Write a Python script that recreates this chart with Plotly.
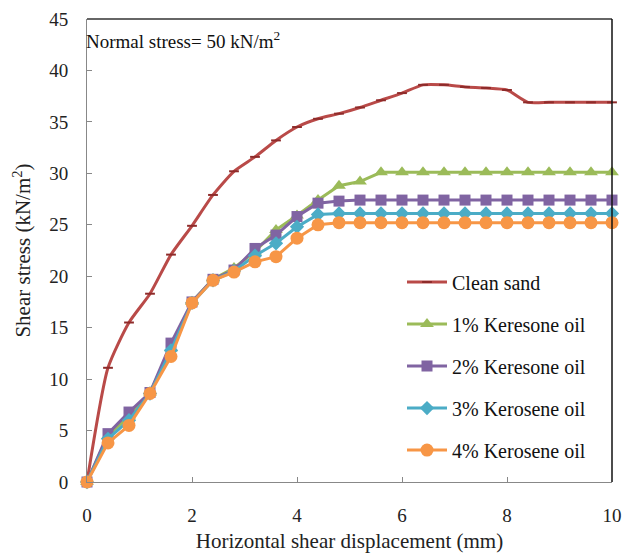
import plotly.graph_objects as go

x_mm = [0, 0.4, 0.8, 1.2, 1.6, 2.0, 2.4, 2.8, 3.2, 3.6, 4.0, 4.4, 4.8, 5.2, 5.6,
        6.0, 6.4, 6.8, 7.2, 7.6, 8.0, 8.4, 8.8, 9.2, 9.6, 10.0]

clean_sand = [0, 11.1, 15.5, 18.3, 22.1, 24.9, 27.9, 30.2, 31.6, 33.2, 34.5, 35.3, 35.8,
              36.4, 37.1, 37.8, 38.6, 38.6, 38.4, 38.3, 38.1, 36.9, 36.9, 36.9, 36.9, 36.9]
oil_1 = [0, 4.5, 6.4, 8.7, 13.0, 17.5, 19.7, 20.8, 22.4, 24.5, 25.9, 27.4, 28.8, 29.2,
         30.1, 30.1, 30.1, 30.1, 30.1, 30.1, 30.1, 30.1, 30.1, 30.1, 30.1, 30.1]
oil_2 = [0, 4.7, 6.8, 8.7, 13.5, 17.5, 19.7, 20.6, 22.7, 24.0, 25.8, 27.1, 27.3, 27.4,
         27.4, 27.4, 27.4, 27.4, 27.4, 27.4, 27.4, 27.4, 27.4, 27.4, 27.4, 27.4]
oil_3 = [0, 4.2, 6.0, 8.6, 12.8, 17.4, 19.6, 20.5, 22.0, 23.2, 24.8, 26.0, 26.1, 26.1,
         26.1, 26.1, 26.1, 26.1, 26.1, 26.1, 26.1, 26.1, 26.1, 26.1, 26.1, 26.1]
oil_4 = [0, 3.8, 5.5, 8.6, 12.2, 17.4, 19.6, 20.4, 21.4, 21.9, 23.7, 25.0, 25.2, 25.2,
         25.2, 25.2, 25.2, 25.2, 25.2, 25.2, 25.2, 25.2, 25.2, 25.2, 25.2, 25.2]

names = ["Clean sand", "1% Keresone oil", "2% Keresone oil", "3% Kerosene oil", "4% Kerosene oil"]
x_ticks = [0, 2, 4, 6, 8, 10]
y_ticks = [0, 5, 10, 15, 20, 25, 30, 35, 40, 45]

SERIF = "Liberation Serif, Times New Roman, serif"

fig = go.Figure()

fig.add_trace(go.Scatter(
    x=x_mm, y=clean_sand, name=names[0], mode="lines+markers", legendgroup="a",
    line=dict(color="#B94A48", width=3, shape="spline", smoothing=0.6),
    marker=dict(symbol="line-ew", size=7, line=dict(color="#8E2B2A", width=2)),
    cliponaxis=False,
))
styles = [
    (oil_1, names[1], "#9BBB59", "triangle-up", 12, "b"),
    (oil_2, names[2], "#8064A2", "square", 11, "c"),
    (oil_3, names[3], "#4BACC6", "diamond", 11, "d"),
    (oil_4, names[4], "#F79646", "circle", 13, "e"),
]
for ys, nm, col, sym, sz, grp in styles:
    fig.add_trace(go.Scatter(
        x=x_mm, y=ys, name=nm, mode="lines+markers", legendgroup=grp,
        line=dict(color=col, width=3),
        marker=dict(symbol=sym, size=sz, color=col),
        cliponaxis=False,
    ))

fig.update_layout(
    width=623, height=557,
    margin=dict(l=87, r=11, t=19, b=75, autoexpand=False),
    paper_bgcolor="white", plot_bgcolor="white",
    font=dict(family=SERIF, size=18, color="#222"),
    showlegend=True,
    legend=dict(
        x=0.600, y=0.474, xanchor="left", yanchor="top",
        bgcolor="rgba(0,0,0,0)", font=dict(family=SERIF, size=20, color="#111"),
        tracegroupgap=13, itemwidth=40,
    ),
    xaxis=dict(
        range=[0, 10], tickvals=x_ticks, ticks="inside", ticklen=5, tickcolor="#888",
        showline=True, linecolor="#888", linewidth=1, showgrid=False, zeroline=False,
        tickfont=dict(family=SERIF, size=19), ticklabelstandoff=16, automargin=False,
        title=dict(text="Horizontal shear displacement (mm)",
                   font=dict(family=SERIF, size=21), standoff=8),
    ),
    yaxis=dict(
        range=[0, 45], tickvals=y_ticks, ticks="inside", ticklen=5, tickcolor="#888",
        showline=True, linecolor="#888", linewidth=1, showgrid=False, zeroline=False,
        tickfont=dict(family=SERIF, size=19), ticklabelstandoff=14, automargin=False,
        title=dict(text="Shear stress (kN/m<sup>2</sup>)",
                   font=dict(family=SERIF, size=21), standoff=12),
    ),
    shapes=[
        dict(type="line", xref="paper", yref="paper", x0=0, x1=1, y0=1, y1=1,
             line=dict(color="#333", width=1.5)),
        dict(type="line", xref="paper", yref="paper", x0=1, x1=1, y0=0, y1=1,
             line=dict(color="#111", width=1.5)),
    ],
    annotations=[
        dict(text="Normal stress= 50 kN/m<sup>2</sup>", xref="paper", yref="paper",
             x=0.0, y=0.985, xanchor="left", yanchor="top", showarrow=False, xshift=-3,
             font=dict(family=SERIF, size=19, color="#111")),
    ],
)

fig.write_html("out.html")
